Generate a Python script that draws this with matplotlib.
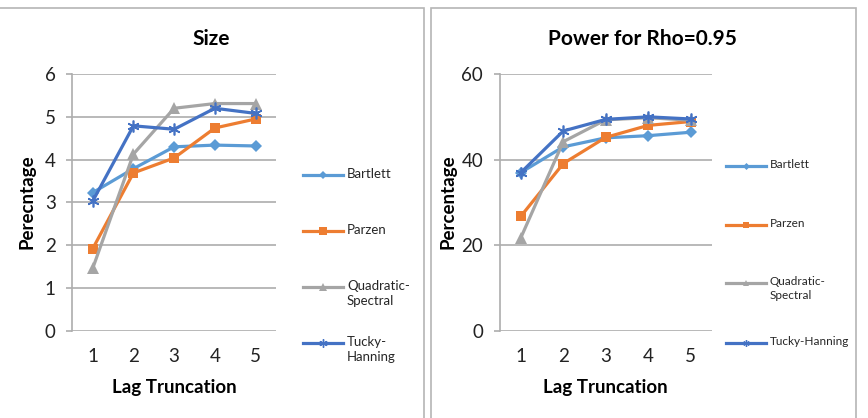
import matplotlib
matplotlib.use("Agg")
import matplotlib.pyplot as plt
from matplotlib.lines import Line2D
from matplotlib.patches import Rectangle

plt.rcParams['font.family'] = ['Lato', 'DejaVu Sans']

lags = [1, 2, 3, 4, 5]
series_names = ["Bartlett", "Parzen", "Quadratic-Spectral", "Tucky-Hanning"]

# Size panel
size_bartlett = [3.23, 3.79, 4.30, 4.34, 4.32]
size_parzen = [1.92, 3.69, 4.04, 4.74, 4.95]
size_quadratic = [1.46, 4.13, 5.20, 5.31, 5.31]
size_tucky = [3.03, 4.79, 4.71, 5.20, 5.08]

# Power panel (rho = 0.95)
power_bartlett = [37.0, 43.0, 45.1, 45.6, 46.4]
power_parzen = [26.8, 39.1, 45.2, 48.0, 48.9]
power_quadratic = [21.8, 44.2, 49.3, 49.8, 49.2]
power_tucky = [37.0, 46.7, 49.4, 50.0, 49.5]

colors = ['#5B9BD5', '#ED7D31', '#A5A5A5', '#4472C4']
markers = ['D', 's', '^', (6, 2, 0)]
msizes = [6.5, 7.5, 8, 8.5]
grid_c = '#ADADAD'

W, H = 868, 418
fig = plt.figure(figsize=(W / 100, H / 100), dpi=100)


def fx(px):
    return px / W


def fy(py):
    return 1 - py / H


# panel borders
for x0, x1 in [(-2, 423.5), (430.7, 855.7)]:
    fig.add_artist(Rectangle((fx(x0), fy(430)), fx(x1 - x0), (430 - 8) / H,
                             transform=fig.transFigure, fill=False,
                             edgecolor='#B5B5B5', linewidth=1.2))


def make_panel(left_px, right_px, data, ymax, ystep, title, ylabel, ylabel_x,
               leg_x0, leg_ys, leg_labels, leg_fs, leg_ms_scale):
    ax = fig.add_axes([fx(left_px), fy(331), fx(right_px - left_px), (331 - 74) / H])
    for vals, c, m, ms in zip(data, colors, markers, msizes):
        mew = 1.2 if isinstance(m, tuple) else 0
        ax.plot(lags, vals, color=c, lw=2.3, marker=m, ms=ms,
                markeredgewidth=mew, markeredgecolor=c, zorder=3)
    ax.set_xlim(0.5, 5.5)
    ax.set_ylim(0, ymax)
    ax.set_yticks(range(0, ymax + 1, ystep))
    ax.set_xticks(lags)
    ax.grid(axis='y', color=grid_c, lw=1.2)
    ax.set_axisbelow(True)
    for s in ['top', 'right', 'bottom']:
        ax.spines[s].set_visible(False)
    ax.spines['left'].set_color(grid_c)
    ax.spines['left'].set_linewidth(1.2)
    ax.tick_params(axis='y', length=4, width=1.2, color=grid_c, pad=8,
                   labelsize=13.5, labelcolor='#222222')
    ax.tick_params(axis='x', length=0, pad=12, labelsize=13.5, labelcolor='#222222')

    cx = (left_px + right_px) / 2
    fig.text(fx(cx + 37), fy(39), title, ha='center', va='center',
             fontsize=15, fontweight='bold')
    fig.text(fx(cx), fy(387), "Lag Truncation", ha='center', va='center',
             fontsize=13.5, fontweight='bold')
    fig.text(fx(ylabel_x), fy(202), ylabel, ha='center', va='center',
             rotation=90, fontsize=13.5, fontweight='bold')

    # legend
    for lab, c, m, ms, y in zip(leg_labels, colors, markers, msizes, leg_ys):
        mew = 1.0 if isinstance(m, tuple) else 0
        fig.add_artist(Line2D([fx(leg_x0), fx(leg_x0 + 40)], [fy(y), fy(y)],
                              transform=fig.transFigure, color=c, lw=2.3))
        fig.add_artist(Line2D([fx(leg_x0 + 20)], [fy(y)], transform=fig.transFigure,
                              color=c, marker=m, ms=ms * leg_ms_scale,
                              markeredgewidth=mew, markeredgecolor=c))
        fig.text(fx(leg_x0 + 44), fy(y - 7), lab, ha='left', va='top',
                 fontsize=leg_fs, color='#262626', linespacing=1.3)
    return ax


make_panel(72.3, 276, [size_bartlett, size_parzen, size_quadratic, size_tucky],
           6, 1, "Size", "Perecntage", 27,
           303, [175, 231, 287, 343],
           ["Bartlett", "Parzen", "Quadratic-\nSpectral", "Tucky-\nHanning"], 9.5, 0.7)

make_panel(499.7, 711.7, [power_bartlett, power_parzen, power_quadratic, power_tucky],
           60, 20, "Power for Rho=0.95", "Percentage", 448,
           726, [166, 225, 283, 343],
           ["Bartlett", "Parzen", "Quadratic-\nSpectral", "Tucky-Hanning"], 8.5, 0.55)

fig.savefig("out.png", dpi=100)
